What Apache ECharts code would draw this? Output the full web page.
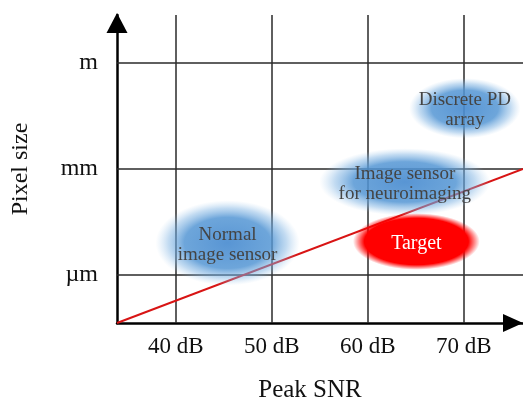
<!DOCTYPE html>
<html>
<head>
<meta charset="utf-8">
<script src="https://cdn.jsdelivr.net/npm/echarts@6/dist/echarts.min.js"></script>
<style>html,body{margin:0;padding:0;background:#fff}#c{width:523px;height:400px}</style>
</head>
<body>
<div id="c"></div>
<script>
// Axis ticks
const snrTicks = [40, 50, 60, 70];
const sizeTicks = [-6, -3, 0];          // log10(metres)
const sizeLabels = ['µm', 'mm', 'm'];
const snrRange = [33.89, 76.15];
const sizeRange = [-7.35, 1.34];

// Trend line (Peak SNR, log10 pixel size)
const trendSnr = [33.89, 76.15];
const trendSize = [-7.35, -3.0];

// Regions: name, centre SNR, centre size, SNR half-spread, size half-spread
const regionNames = ['Normal\nimage sensor', 'Image sensor\nfor neuroimaging', 'Discrete PD\narray'];
const regionSnr = [45.4, 63.85, 70.1];
const regionSize = [-5.09, -3.37, -1.29];
const regionSnrSpread = [7.5, 8.9, 5.8];
const regionSizeSpread = [1.2, 0.95, 0.85];

const targetName = ['Target'];
const targetSnr = [65.05];
const targetSize = [-5.05];
const targetSnrSpread = [6.6];
const targetSizeSpread = [0.8];

const chart = echarts.init(document.getElementById('c'));
const serif = "'Liberation Serif', 'DejaVu Serif', serif";

function blobSeries(names, xs, ys, sx, sy, kind) {
  return {
    type: 'custom',
    z: 10,
    silent: true,
    animation: false,
    data: names.map((n, i) => [xs[i], ys[i], sx[i], sy[i], n]),
    renderItem: function (params, api) {
      const c = api.coord([api.value(0), api.value(1)]);
      const s = api.size([api.value(2), api.value(3)]);
      const rx = s[0], ry = s[1];
      const grad = kind === 'target'
        ? new echarts.graphic.RadialGradient(0.5, 0.5, 0.5, [
            {offset: 0, color: 'rgba(255,0,0,1)'},
            {offset: 0.82, color: 'rgba(255,0,0,1)'},
            {offset: 1, color: 'rgba(255,0,0,0)'}])
        : new echarts.graphic.RadialGradient(0.5, 0.5, 0.5, [
            {offset: 0, color: 'rgba(74,140,208,0.92)'},
            {offset: 0.6, color: 'rgba(84,150,212,0.85)'},
            {offset: 0.82, color: 'rgba(120,175,225,0.45)'},
            {offset: 1, color: 'rgba(160,200,235,0)'}]);
      return {
        type: 'group',
        children: [
          {type: 'circle', shape: {cx: 0, cy: 0, r: ry}, x: c[0], y: c[1], scaleX: rx / ry,
           style: {fill: grad}},
          {type: 'text', x: c[0], y: c[1] + 2,
           style: {text: api.value(4), fill: kind === 'target' ? '#fff' : '#444',
                   font: (kind === 'target' ? '20px ' : '19px ') + serif,
                   align: 'center', verticalAlign: 'middle', lineHeight: 20}}
        ]
      };
    }
  };
}

chart.setOption({
  animation: false,
  backgroundColor: '#fff',
  grid: {left: 117, right: 0, top: 15, bottom: 77, containLabel: false, outerBoundsMode: 'none'},
  xAxis: {
    type: 'value', min: snrRange[0], max: snrRange[1],
    name: 'Peak SNR', nameLocation: 'middle', nameGap: 55,
    nameTextStyle: {fontFamily: serif, fontSize: 25, color: '#111', padding: [0, 20, 0, 0]},
    axisLine: {show: true, onZero: false, symbol: ['none', 'triangle'], symbolSize: [18, 20], symbolOffset: [0, -10],
               lineStyle: {color: '#000', width: 2.5}},
    axisTick: {show: false},
    splitLine: {show: false},
    axisLabel: {customValues: snrTicks, formatter: v => v + ' dB', fontFamily: serif, fontSize: 23,
                color: '#111', margin: 12}
  },
  yAxis: {
    type: 'value', min: sizeRange[0], max: sizeRange[1],
    name: 'Pixel size', nameLocation: 'middle', nameGap: 84,
    nameTextStyle: {fontFamily: serif, fontSize: 24, color: '#111'},
    axisLine: {show: true, onZero: false, symbol: ['none', 'triangle'], symbolSize: [21, 20], symbolOffset: [0, -8],
               lineStyle: {color: '#000', width: 2.5}},
    axisTick: {show: false},
    splitLine: {show: false},
    axisLabel: {customValues: sizeTicks, formatter: v => sizeLabels[sizeTicks.indexOf(v)],
                fontFamily: serif, fontSize: 24, color: '#111', margin: 19}
  },
  series: [
    {
      type: 'scatter', data: [], z: 1, silent: true,
      markLine: {
        silent: true, symbol: ['none', 'none'], label: {show: false}, z: 1,
        lineStyle: {color: '#2a2a2a', width: 1.5, type: 'solid'},
        emphasis: {disabled: true},
        data: [...snrTicks.map(v => ({xAxis: v})), ...sizeTicks.map(v => ({yAxis: v}))]
      }
    },
    {
      type: 'line', z: 5, silent: true, symbol: 'none',
      data: trendSnr.map((x, i) => [x, trendSize[i]]),
      lineStyle: {color: '#d81414', width: 2}
    },
    blobSeries(regionNames, regionSnr, regionSize, regionSnrSpread, regionSizeSpread, 'blue'),
    blobSeries(targetName, targetSnr, targetSize, targetSnrSpread, targetSizeSpread, 'target')
  ]
});
</script>
</body>
</html>
